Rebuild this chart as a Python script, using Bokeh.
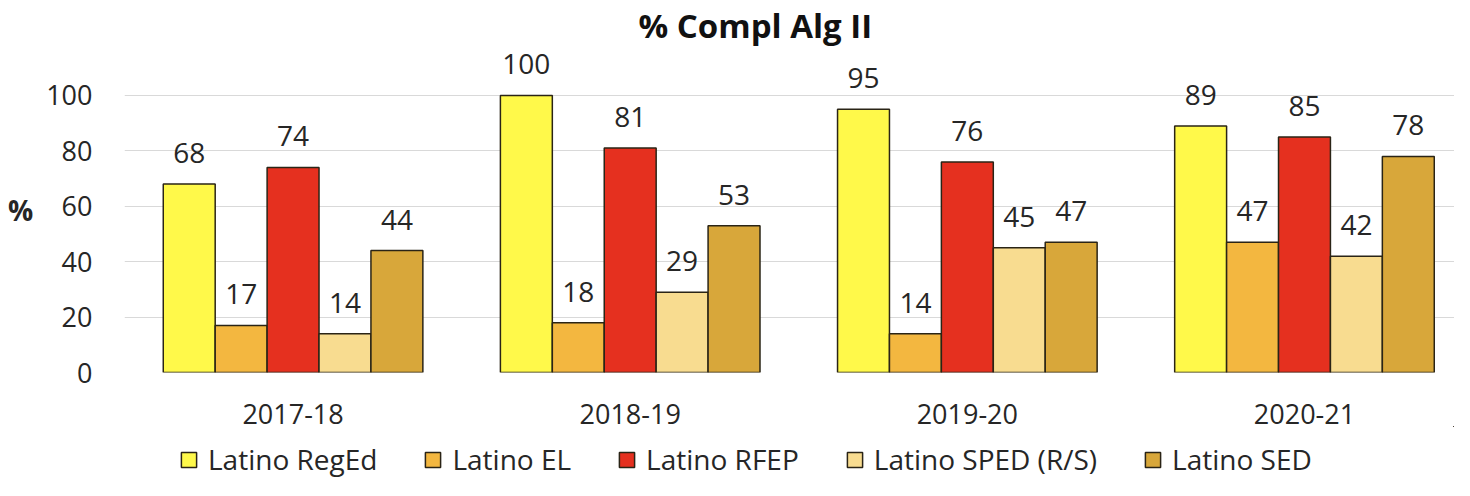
from bokeh.plotting import figure
from bokeh.models import ColumnDataSource, Range1d, FixedTicker, Legend, LegendItem
from bokeh.layouts import column
from bokeh.transform import dodge
from bokeh.core.properties import value
from bokeh.embed import file_html
from bokeh.resources import INLINE

years = ["2017-18", "2018-19", "2019-20", "2020-21"]
series = ["Latino RegEd", "Latino EL", "Latino RFEP", "Latino SPED (R/S)", "Latino SED"]
regEd = [68, 100, 95, 89]
el = [17, 18, 14, 47]
rfep = [74, 81, 76, 85]
sped = [14, 29, 45, 42]
sed = [44, 53, 47, 78]
y_ticks = [0, 20, 40, 60, 80, 100]

colors = ["#FFF94A", "#F3B740", "#E5301F", "#F8DC90", "#D8A73A"]
values = [regEd, el, rfep, sped, sed]

FONT = "Open Sans"
TXT = "#262626"
OUTLINE = "#2a2416"

p = figure(
    output_backend="svg", toolbar_location=None,
    width=1454, height=436, frame_width=1330, frame_height=325,
    min_border_left=124, min_border_right=0, min_border_top=37, min_border_bottom=0,
    x_range=Range1d(-0.5, 3.445), y_range=Range1d(0, 117.3),
)

bar_w = 0.154
offsets = [-2 * bar_w, -bar_w, 0, bar_w, 2 * bar_w]
xs = list(range(len(years)))

for name, vals, col, off in zip(series, values, colors, offsets):
    src = ColumnDataSource(dict(x=xs, top=vals, lbl=[str(v) for v in vals]))
    p.vbar(x=dodge("x", off), top="top", width=bar_w, source=src,
           fill_color=col, line_color=OUTLINE, line_width=1.5)
    p.text(x=dodge("x", off), y="top", text="lbl", source=src,
           text_align="center", text_baseline="alphabetic", y_offset=-31,
           text_font=value(FONT), text_font_size="28px", text_color=TXT)

# title
p.title.text = "% Compl Alg II"
p.title.text_font = FONT
p.title.text_font_size = "33px"
p.title.text_font_style = "bold"
p.title.text_color = "#111111"
p.title.align = "left"
p.title.offset = 514
p.title.standoff = 0

# axes
p.xaxis.ticker = FixedTicker(ticks=xs)
p.xaxis.major_label_overrides = {i: y for i, y in enumerate(years)}
p.yaxis.ticker = FixedTicker(ticks=y_ticks)
for ax in (p.xaxis[0], p.yaxis[0]):
    ax.axis_line_color = None
    ax.major_tick_line_color = None
    ax.minor_tick_line_color = None
    ax.major_tick_out = 0
    ax.major_tick_in = 0
    ax.minor_tick_out = 0
    ax.major_label_text_font = FONT
    ax.major_label_text_font_size = "27px"
    ax.major_label_text_color = TXT
p.xaxis.major_label_standoff = 31
p.yaxis.major_label_standoff = 32
p.yaxis.axis_label = "%"
p.yaxis.axis_label_orientation = "horizontal"
p.yaxis.axis_label_text_font = FONT
p.yaxis.axis_label_text_font_size = "28px"
p.yaxis.axis_label_text_font_style = "bold"
p.yaxis.axis_label_text_color = TXT
p.yaxis.axis_label_standoff = 10

p.xgrid.grid_line_color = None
p.ygrid.grid_line_color = "#d9d9d9"
p.ygrid.grid_line_width = 1.2
p.outline_line_color = None

# legend strip below the chart (bars kept outside its visible range)
lg = figure(
    output_backend="svg", toolbar_location=None,
    width=1454, height=52, x_axis_type=None, y_axis_type=None,
    min_border_left=0, min_border_right=0, min_border_top=0, min_border_bottom=0,
    x_range=Range1d(-20, -19), y_range=Range1d(-20, -19),
)
lg.outline_line_color = None
lg.xgrid.grid_line_color = None
lg.ygrid.grid_line_color = None
items = []
for name, vals, col in zip(series, values, colors):
    src = ColumnDataSource(dict(x=xs, top=vals))
    r = lg.vbar(x="x", top="top", width=0.1, source=src,
                fill_color=col, line_color=OUTLINE, line_width=1.5)
    items.append(LegendItem(label=name, renderers=[r]))
legend = Legend(items=items, orientation="horizontal", location=(55, 0),
                glyph_width=19, glyph_height=19, label_standoff=10, spacing=46,
                padding=0, margin=0, border_line_color=None, background_fill_alpha=0,
                label_text_font=FONT, label_text_font_size="28px", label_text_color=TXT)
lg.add_layout(legend, "center")

layout = column(p, lg, spacing=0)
open("out.html", "w").write(file_html(layout, INLINE))
